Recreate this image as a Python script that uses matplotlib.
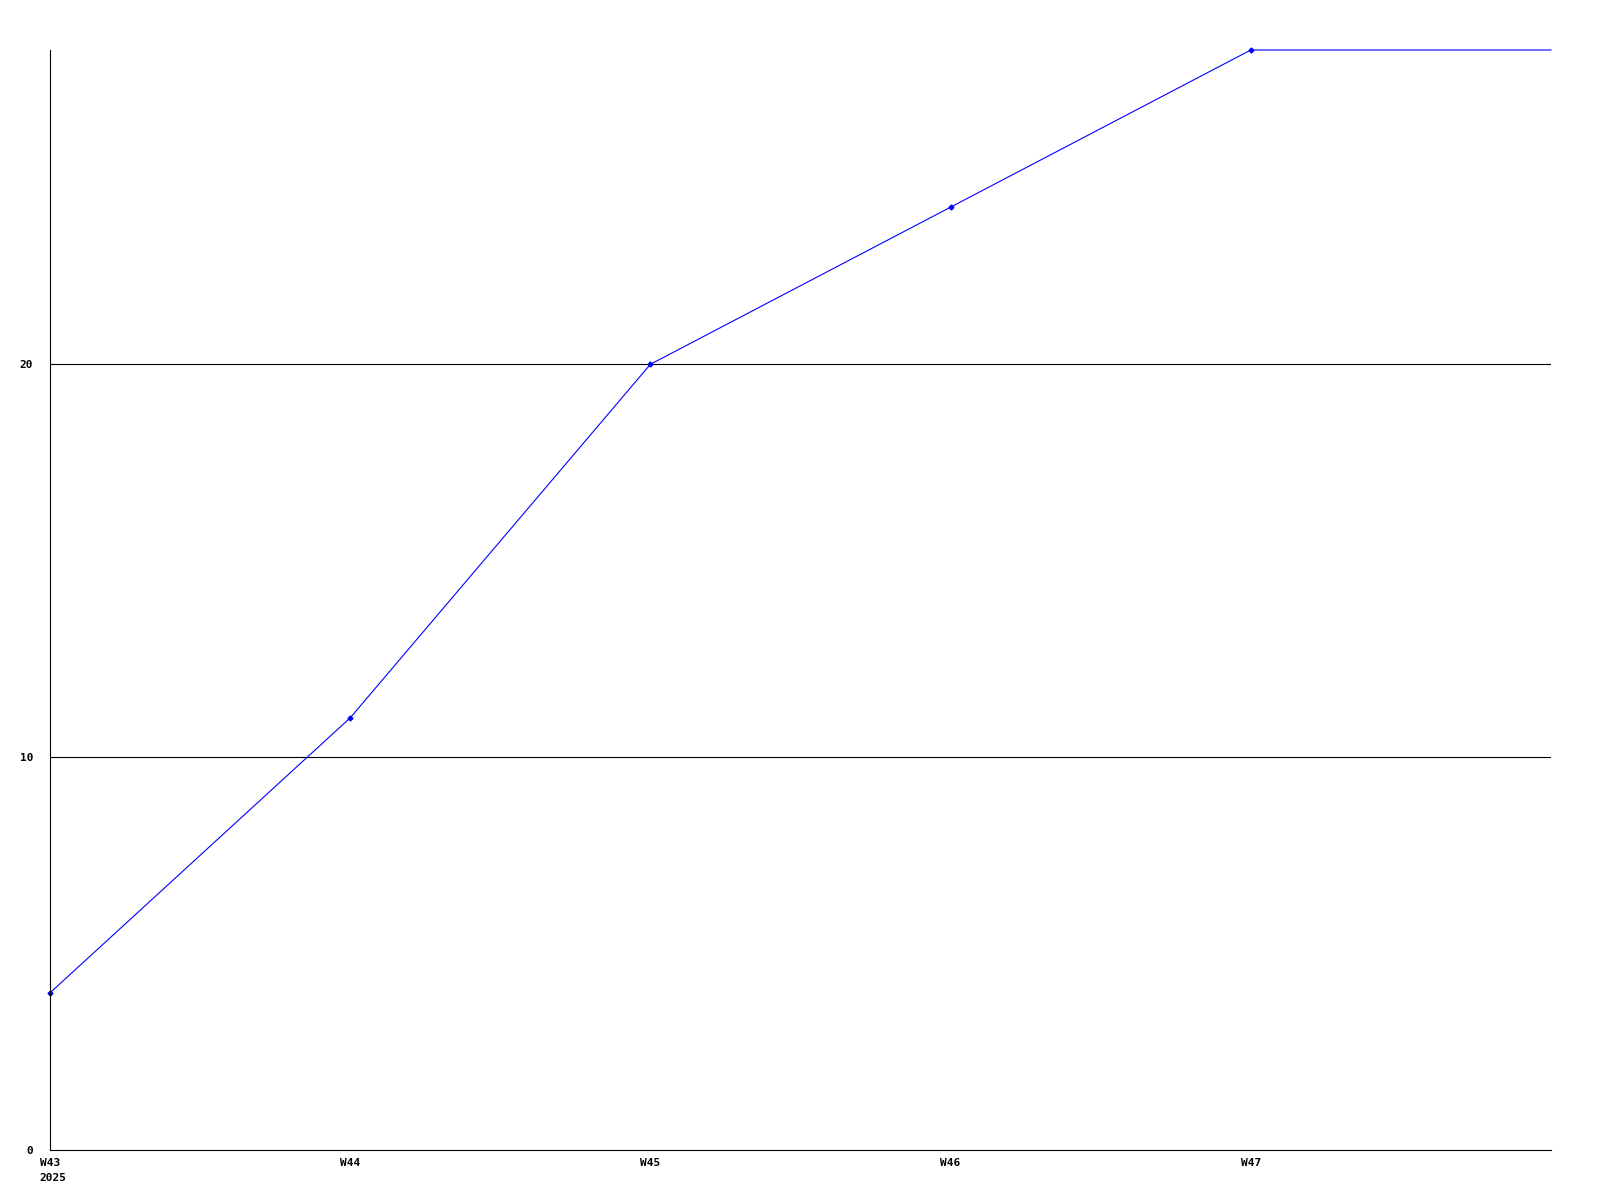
import matplotlib
matplotlib.use("Agg")
import matplotlib.pyplot as plt

semaines = ["W43", "W44", "W45", "W46", "W47"]
valeurs = [4, 11, 20, 24, 28]
annee = "2025"
yticks = [0, 10, 20]

fig = plt.figure(figsize=(16, 12), dpi=100)
ax = fig.add_axes([50 / 1600, 50 / 1200, 1501 / 1600, 1100 / 1200])

x = list(range(len(semaines)))
# la courbe continue à plat jusqu'au bord droit (semaine en cours)
ax.plot(x + [len(semaines)], valeurs + [valeurs[-1]], color="#0000ff", lw=0.8, clip_on=False)
ax.plot(x, valeurs, color="#0000ff", lw=0, marker="D", markersize=2.5, clip_on=False)

ax.set_xlim(0, len(semaines))
ax.set_ylim(0, 28)

for v in yticks[1:]:
    ax.axhline(v, color="black", lw=0.8, zorder=0)

police = dict(family="DejaVu Sans Mono", weight="bold", size=8)
ax.set_xticks(x)
ax.set_xticklabels(semaines, **police)
ax.set_yticks(yticks)
ax.set_yticklabels([str(v) for v in yticks], **police)
ax.tick_params(length=0)
ax.tick_params(axis="y", pad=12)
ax.tick_params(axis="x", pad=6)

ax.annotate(annee, xy=(0, 0), xycoords=("data", "axes fraction"),
            xytext=(-7.5, -20), textcoords="offset points", ha="left", va="center", **police)

for s in ["top", "right"]:
    ax.spines[s].set_visible(False)
ax.spines["left"].set_linewidth(0.8)
ax.spines["bottom"].set_linewidth(0.8)

fig.savefig("out.png", dpi=100)
